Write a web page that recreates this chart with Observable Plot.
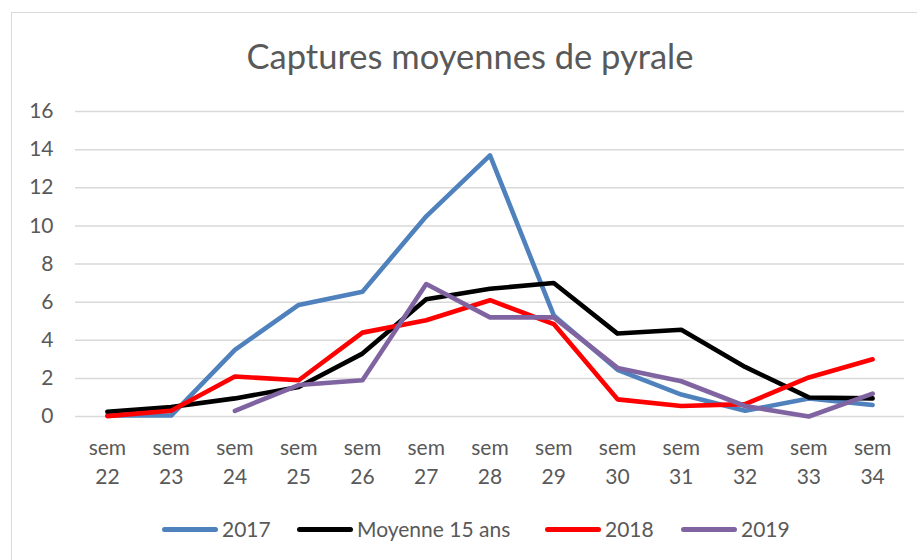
<!DOCTYPE html>
<html>
<head>
<meta charset="utf-8">
<script src="https://cdn.jsdelivr.net/npm/d3@7"></script>
<script src="https://cdn.jsdelivr.net/npm/@observablehq/plot@0.6"></script>
<style>
  html, body { margin: 0; padding: 0; background: #fff; }
  body { width: 917px; height: 560px; position: relative; overflow: hidden; font-family: Lato, "Open Sans", sans-serif; color: #595959; }
  #frame { position: absolute; left: 11px; top: 12px; width: 920px; height: 560px; border-left: 1.5px solid #d9d9d9; border-top: 1.5px solid #d9d9d9; box-sizing: border-box; }
  #title { position: absolute; left: 0; width: 940px; top: 36px; text-align: center; font-size: 34.5px; line-height: 40px; color: #595959; white-space: nowrap; }
  #chart { position: absolute; left: 0; top: 90px; }
  #legend { position: absolute; left: 0; top: 516px; width: 917px; height: 26px; font-size: 21px; line-height: 26px; color: #595959; white-space: nowrap; }
  .item { position: absolute; top: 0; display: flex; align-items: center; height: 26px; }
  .sw { width: 56px; height: 5px; border-radius: 3px; margin-right: 4px; }
</style>
</head>
<body>
<div id="frame"></div>
<div id="title">Captures moyennes de pyrale</div>
<div id="chart"></div>
<div id="legend"></div>
<script>
const weeks = ["22","23","24","25","26","27","28","29","30","31","32","33","34"];
const seriesNames = ["2017", "Moyenne 15 ans", "2018", "2019"];
const seriesColors = ["#4F81BD", "#000000", "#FF0000", "#8064A2"];
const v2017    = [0.05, 0.05, 3.5, 5.85, 6.55, 10.5, 13.7, 5.3, 2.45, 1.15, 0.3, 0.95, 0.6];
const vMoyenne = [0.25, 0.5, 0.95, 1.55, 3.3, 6.15, 6.7, 7.0, 4.35, 4.55, 2.6, 1.0, 0.95];
const v2018    = [0.02, 0.3, 2.1, 1.9, 4.4, 5.05, 6.1, 4.85, 0.9, 0.55, 0.65, 2.05, 3.0];
const v2019    = [null, null, 0.3, 1.65, 1.9, 6.95, 5.2, 5.2, 2.55, 1.85, 0.55, 0.0, 1.2];
const yTicks = [0, 2, 4, 6, 8, 10, 12, 14, 16];
const legendLefts = [162, 297, 545, 681];

const allValues = [v2017, vMoyenne, v2018, v2019];
const data = [];
seriesNames.forEach((name, i) => {
  weeks.forEach((w, j) => {
    const v = allValues[i][j];
    if (v !== null) data.push({series: name, week: w, value: v});
  });
});

const chart = Plot.plot({
  width: 917,
  height: 405,
  marginLeft: 75,
  marginRight: 13,
  marginTop: 21,
  marginBottom: 79,
  style: {fontFamily: "Lato, 'Open Sans', sans-serif", color: "#595959", background: "transparent", overflow: "visible"},
  x: {type: "point", domain: weeks, padding: 0.5, round: false, label: null},
  y: {domain: [0, 16], label: null},
  color: {domain: seriesNames, range: seriesColors},
  marks: [
    Plot.ruleY(yTicks, {stroke: "#d9d9d9", strokeWidth: 1.5, strokeOpacity: 1}),
    Plot.axisY({ticks: yTicks, tickSize: 0, tickPadding: 22, fontSize: 21, label: null, fill: "#595959"}),
    Plot.axisX({tickSize: 0, tickPadding: 18, fontSize: 21, lineHeight: 1.38, label: null, fill: "#595959",
      tickFormat: d => "sem\n" + d}),
    ...seriesNames.map(name => Plot.line(data.filter(d => d.series === name), {
      x: "week", y: "value", stroke: "series", strokeWidth: 4.6,
      strokeLinejoin: "round", strokeLinecap: "round"
    }))
  ]
});
document.getElementById("chart").appendChild(chart);

const legend = document.getElementById("legend");
seriesNames.forEach((name, i) => {
  const item = document.createElement("div");
  item.className = "item";
  item.style.left = legendLefts[i] + "px";
  const sw = document.createElement("div");
  sw.className = "sw";
  sw.style.background = seriesColors[i];
  const t = document.createElement("span");
  t.textContent = name;
  item.appendChild(sw);
  item.appendChild(t);
  legend.appendChild(item);
});
</script>
</body>
</html>
